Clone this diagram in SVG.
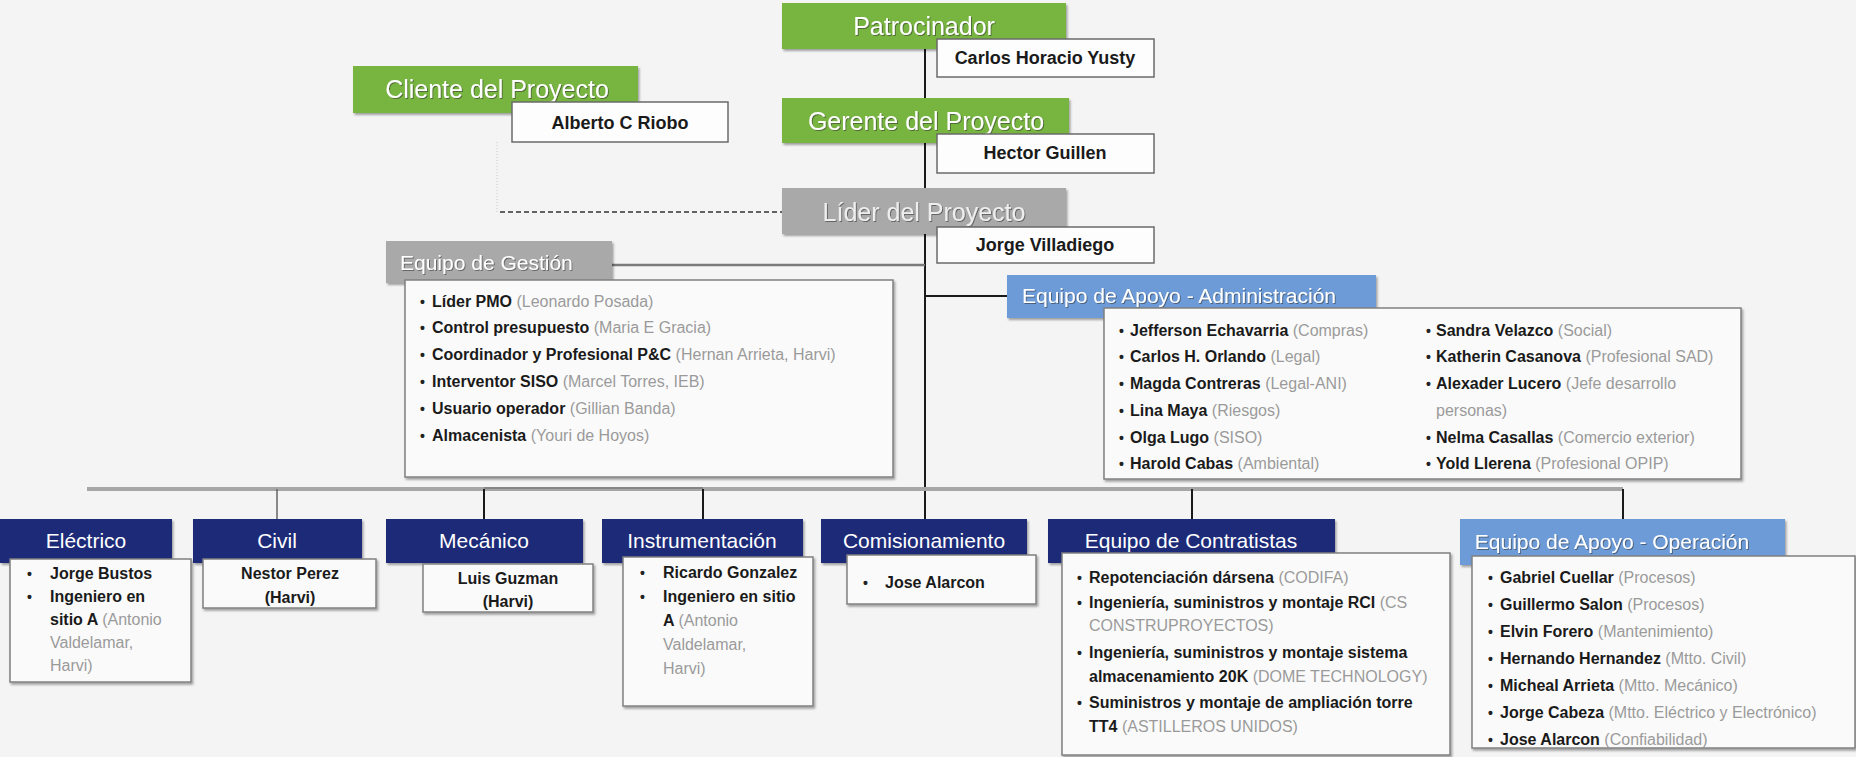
<svg xmlns="http://www.w3.org/2000/svg" width="1856" height="757" viewBox="0 0 1856 757">
<defs>
<filter id="sh" x="-5%" y="-5%" width="115%" height="120%"><feDropShadow dx="1.5" dy="2" stdDeviation="1.2" flood-color="#000" flood-opacity="0.35"/></filter>
<filter id="ts" x="-5%" y="-20%" width="110%" height="150%"><feDropShadow dx="1" dy="1" stdDeviation="0.6" flood-color="#333" flood-opacity="0.55"/></filter>
<style>
.bg{fill:#f4f4f4}
.green{fill:#77b43f}
.gray{fill:#a9a9a9}
.blue{fill:#6c9bd8}
.navy{fill:#1e2b78}
.sub{fill:#fdfdfd;stroke:#6a6a6a;stroke-width:1.5}
.box{fill:#fafafa;stroke:#808080;stroke-width:1.5}
.tt{font-family:"Liberation Sans",Arial,sans-serif;font-size:25px;fill:#fff;text-anchor:middle}
.tg{fill:#eeeeee}
.bt{font-family:"Liberation Sans",Arial,sans-serif;font-size:21px;fill:#fff}
.mid{text-anchor:middle}
.nm{font-family:"Liberation Sans",Arial,sans-serif;font-size:18px;font-weight:bold;fill:#1a1a1a;text-anchor:middle}
.li{font-family:"Liberation Sans",Arial,sans-serif;font-size:16px;font-weight:bold;fill:#1a1a1a}
.li tspan.p{font-weight:normal;fill:#9a9a9a}
.bul{font-family:"Liberation Sans",Arial,sans-serif;font-size:14px;font-weight:bold;fill:#222}
.ln{stroke:#1a1a1a;stroke-width:2;fill:none}
</style>
</defs>
<rect class="bg" x="0" y="0" width="1856" height="757"/>

<g id="connectors">
<line class="ln" x1="925" y1="49" x2="925" y2="520"/>
<line x1="612" y1="265" x2="925" y2="265" stroke="#7a7a7a" stroke-width="2.5"/>
<line class="ln" x1="925" y1="296" x2="1007" y2="296"/>
<line x1="497" y1="142" x2="497" y2="212" stroke="#c8c8c8" stroke-width="1" stroke-dasharray="1,2"/>
<line x1="500" y1="212" x2="782" y2="212" stroke="#333" stroke-width="1.5" stroke-dasharray="5,3"/>
<line x1="87" y1="489" x2="1623" y2="489" stroke="#a6a6a6" stroke-width="4"/>
<line x1="484" y1="488" x2="703" y2="488" stroke="#858585" stroke-width="2"/>
<line x1="277" y1="489" x2="277" y2="519" stroke="#666" stroke-width="1.5"/>
<line class="ln" x1="484" y1="489" x2="484" y2="519"/>
<line class="ln" x1="703" y1="489" x2="703" y2="519"/>
<line class="ln" x1="1192" y1="489" x2="1192" y2="519"/>
<line class="ln" x1="1623" y1="489" x2="1623" y2="519"/>
</g>

<g id="patrocinador">
<rect class="green" x="782" y="3" width="284" height="46" filter="url(#sh)"/>
<text class="tt" x="924" y="35" filter="url(#ts)">Patrocinador</text>
<rect class="sub" x="937" y="39" width="217" height="38"/>
<text class="nm" x="1045" y="64">Carlos Horacio Yusty</text>
</g>

<g id="cliente">
<rect class="green" x="353" y="66" width="285" height="47" filter="url(#sh)"/>
<text class="tt" x="497" y="98" filter="url(#ts)">Cliente del Proyecto</text>
<rect class="sub" x="512" y="102" width="216" height="40"/>
<text class="nm" x="620" y="129">Alberto C Riobo</text>
</g>

<g id="gerente">
<rect class="green" x="782" y="98" width="287" height="45" filter="url(#sh)"/>
<text class="tt" x="926" y="130" filter="url(#ts)">Gerente del Proyecto</text>
<rect class="sub" x="937" y="134" width="217" height="39"/>
<text class="nm" x="1045" y="159">Hector Guillen</text>
</g>

<g id="lider">
<rect class="gray" x="782" y="188" width="284" height="46" filter="url(#sh)"/>
<text class="tt tg" x="924" y="221" filter="url(#ts)">Líder del Proyecto</text>
<rect class="sub" x="937" y="227" width="217" height="36"/>
<text class="nm" x="1045" y="251">Jorge Villadiego</text>
</g>

<g id="gestion">
<rect class="gray" x="386" y="241" width="226" height="42" filter="url(#sh)"/>
<text class="bt tg" x="400" y="270" filter="url(#ts)">Equipo de Gestión</text>
<rect class="box" x="405" y="280" width="488" height="197" filter="url(#sh)"/>
<text class="bul" x="420" y="307">•</text><text class="li" x="432" y="307">Líder PMO <tspan class="p">(Leonardo Posada)</tspan></text>
<text class="bul" x="420" y="333">•</text><text class="li" x="432" y="333">Control presupuesto <tspan class="p">(Maria E Gracia)</tspan></text>
<text class="bul" x="420" y="360">•</text><text class="li" x="432" y="360">Coordinador y Profesional P&amp;C <tspan class="p">(Hernan Arrieta, Harvi)</tspan></text>
<text class="bul" x="420" y="387">•</text><text class="li" x="432" y="387">Interventor SISO <tspan class="p">(Marcel Torres, IEB)</tspan></text>
<text class="bul" x="420" y="414">•</text><text class="li" x="432" y="414">Usuario operador <tspan class="p">(Gillian Banda)</tspan></text>
<text class="bul" x="420" y="441">•</text><text class="li" x="432" y="441">Almacenista <tspan class="p">(Youri de Hoyos)</tspan></text>
</g>

<g id="apoyo-administracion">
<rect class="blue" x="1007" y="275" width="369" height="43" filter="url(#sh)"/>
<text class="bt" x="1022" y="303" filter="url(#ts)">Equipo de Apoyo - Administración</text>
<rect class="box" x="1104" y="308" width="637" height="171" filter="url(#sh)"/>
<text class="bul" x="1119" y="336">•</text><text class="li" x="1130" y="336">Jefferson Echavarria <tspan class="p">(Compras)</tspan></text>
<text class="bul" x="1119" y="362">•</text><text class="li" x="1130" y="362">Carlos H. Orlando <tspan class="p">(Legal)</tspan></text>
<text class="bul" x="1119" y="389">•</text><text class="li" x="1130" y="389">Magda Contreras <tspan class="p">(Legal-ANI)</tspan></text>
<text class="bul" x="1119" y="416">•</text><text class="li" x="1130" y="416">Lina Maya <tspan class="p">(Riesgos)</tspan></text>
<text class="bul" x="1119" y="443">•</text><text class="li" x="1130" y="443">Olga Lugo <tspan class="p">(SISO)</tspan></text>
<text class="bul" x="1119" y="469">•</text><text class="li" x="1130" y="469">Harold Cabas <tspan class="p">(Ambiental)</tspan></text>
<text class="bul" x="1426" y="336">•</text><text class="li" x="1436" y="336">Sandra Velazco <tspan class="p">(Social)</tspan></text>
<text class="bul" x="1426" y="362">•</text><text class="li" x="1436" y="362">Katherin Casanova <tspan class="p">(Profesional SAD)</tspan></text>
<text class="bul" x="1426" y="389">•</text><text class="li" x="1436" y="389">Alexader Lucero <tspan class="p">(Jefe desarrollo</tspan></text>
<text class="li" x="1436" y="416"><tspan class="p">personas)</tspan></text>
<text class="bul" x="1426" y="443">•</text><text class="li" x="1436" y="443">Nelma Casallas <tspan class="p">(Comercio exterior)</tspan></text>
<text class="bul" x="1426" y="469">•</text><text class="li" x="1436" y="469">Yold Llerena <tspan class="p">(Profesional OPIP)</tspan></text>
</g>

<g id="electrico">
<rect class="navy" x="0" y="519" width="172" height="44" filter="url(#sh)"/>
<text class="bt mid" x="86" y="548">Eléctrico</text>
<rect class="box" x="10" y="559" width="181" height="123" filter="url(#sh)"/>
<text class="bul" x="27" y="579">•</text><text class="li" x="50" y="579">Jorge Bustos</text>
<text class="bul" x="27" y="602">•</text><text class="li" x="50" y="602">Ingeniero en</text>
<text class="li" x="50" y="625">sitio A <tspan class="p">(Antonio</tspan></text>
<text class="li" x="50" y="648"><tspan class="p">Valdelamar,</tspan></text>
<text class="li" x="50" y="671"><tspan class="p">Harvi)</tspan></text>
</g>

<g id="civil">
<rect class="navy" x="193" y="519" width="169" height="44" filter="url(#sh)"/>
<text class="bt mid" x="277" y="548">Civil</text>
<rect class="box" x="203" y="559" width="173" height="49" filter="url(#sh)"/>
<text class="li mid" x="290" y="579" text-anchor="middle">Nestor Perez</text>
<text class="li" x="290" y="603" text-anchor="middle">(Harvi)</text>
</g>

<g id="mecanico">
<rect class="navy" x="386" y="519" width="197" height="44" filter="url(#sh)"/>
<text class="bt mid" x="484" y="548">Mecánico</text>
<rect class="box" x="423" y="564" width="170" height="48" filter="url(#sh)"/>
<text class="li" x="508" y="584" text-anchor="middle">Luis Guzman</text>
<text class="li" x="508" y="607" text-anchor="middle">(Harvi)</text>
</g>

<g id="instrumentacion">
<rect class="navy" x="602" y="519" width="201" height="44" filter="url(#sh)"/>
<text class="bt mid" x="702" y="548">Instrumentación</text>
<rect class="box" x="623" y="557" width="190" height="149" filter="url(#sh)"/>
<text class="bul" x="640" y="578">•</text><text class="li" x="663" y="578">Ricardo Gonzalez</text>
<text class="bul" x="640" y="602">•</text><text class="li" x="663" y="602">Ingeniero en sitio</text>
<text class="li" x="663" y="626">A <tspan class="p">(Antonio</tspan></text>
<text class="li" x="663" y="650"><tspan class="p">Valdelamar,</tspan></text>
<text class="li" x="663" y="674"><tspan class="p">Harvi)</tspan></text>
</g>

<g id="comisionamiento">
<rect class="navy" x="821" y="519" width="206" height="44" filter="url(#sh)"/>
<text class="bt mid" x="924" y="548">Comisionamiento</text>
<rect class="box" x="847" y="555" width="189" height="49" filter="url(#sh)"/>
<text class="bul" x="863" y="588">•</text><text class="li" x="885" y="588">Jose Alarcon</text>
</g>

<g id="contratistas">
<rect class="navy" x="1048" y="519" width="287" height="44" filter="url(#sh)"/>
<text class="bt mid" x="1191" y="548">Equipo de Contratistas</text>
<rect class="box" x="1062" y="553" width="388" height="202" filter="url(#sh)"/>
<text class="bul" x="1077" y="583">•</text><text class="li" x="1089" y="583">Repotenciación dársena <tspan class="p">(CODIFA)</tspan></text>
<text class="bul" x="1077" y="608">•</text><text class="li" x="1089" y="608">Ingeniería, suministros y montaje RCI <tspan class="p">(CS</tspan></text>
<text class="li" x="1089" y="631"><tspan class="p">CONSTRUPROYECTOS)</tspan></text>
<text class="bul" x="1077" y="658">•</text><text class="li" x="1089" y="658">Ingeniería, suministros y montaje sistema</text>
<text class="li" x="1089" y="682">almacenamiento 20K <tspan class="p">(DOME TECHNOLOGY)</tspan></text>
<text class="bul" x="1077" y="708">•</text><text class="li" x="1089" y="708">Suministros y montaje de ampliación torre</text>
<text class="li" x="1089" y="732">TT4 <tspan class="p">(ASTILLEROS UNIDOS)</tspan></text>
</g>

<g id="apoyo-operacion">
<rect class="blue" x="1460" y="519" width="325" height="46" filter="url(#sh)"/>
<text class="bt mid tg" x="1612" y="549" filter="url(#ts)">Equipo de Apoyo - Operación</text>
<rect class="box" x="1472" y="556" width="383" height="192" filter="url(#sh)"/>
<text class="bul" x="1488" y="583">•</text><text class="li" x="1500" y="583">Gabriel Cuellar <tspan class="p">(Procesos)</tspan></text>
<text class="bul" x="1488" y="610">•</text><text class="li" x="1500" y="610">Guillermo Salon <tspan class="p">(Procesos)</tspan></text>
<text class="bul" x="1488" y="637">•</text><text class="li" x="1500" y="637">Elvin Forero <tspan class="p">(Mantenimiento)</tspan></text>
<text class="bul" x="1488" y="664">•</text><text class="li" x="1500" y="664">Hernando Hernandez <tspan class="p">(Mtto. Civil)</tspan></text>
<text class="bul" x="1488" y="691">•</text><text class="li" x="1500" y="691">Micheal Arrieta <tspan class="p">(Mtto. Mecánico)</tspan></text>
<text class="bul" x="1488" y="718">•</text><text class="li" x="1500" y="718">Jorge Cabeza <tspan class="p">(Mtto. Eléctrico y Electrónico)</tspan></text>
<text class="bul" x="1488" y="745">•</text><text class="li" x="1500" y="745">Jose Alarcon <tspan class="p">(Confiabilidad)</tspan></text>
</g>
</svg>
